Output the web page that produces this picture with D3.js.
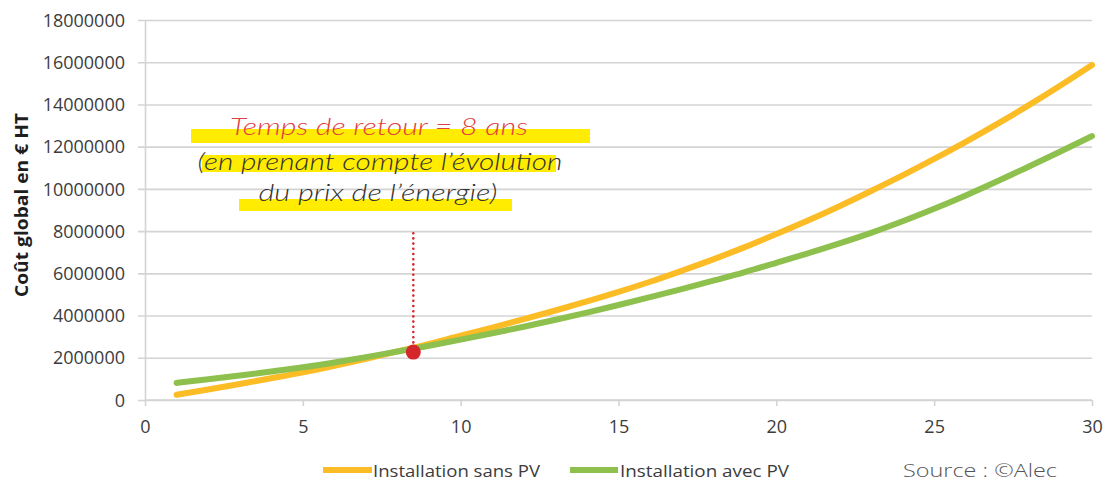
<!DOCTYPE html>
<html><head><meta charset="utf-8">
<script src="https://cdn.jsdelivr.net/npm/d3@7"></script>
<style>
html,body{margin:0;padding:0;background:#fff;}
svg{display:block;}
</style></head>
<body>
<svg id="chart" width="1107" height="482"></svg>
<script>
// ---- data ----
const years = [1,2,3,4,5,6,7,8,9,10,11,12,13,14,15,16,17,18,19,20,21,22,23,24,25,26,27,28,29,30];
const sansPV = [0.25,0.50,0.76,1.03,1.31,1.62,1.95,2.30,2.66,3.05,3.43,3.83,4.24,4.67,5.12,5.60,6.12,6.66,7.24,7.86,8.50,9.18,9.90,10.64,11.42,12.23,13.08,13.97,14.90,15.87].map(v=>v*1e6);
const avecPV = [0.81,0.98,1.16,1.35,1.55,1.78,2.03,2.30,2.57,2.86,3.16,3.47,3.80,4.14,4.50,4.87,5.25,5.65,6.06,6.50,6.95,7.42,7.92,8.47,9.06,9.69,10.36,11.06,11.77,12.50].map(v=>v*1e6);
const yTicks = [0,2000000,4000000,6000000,8000000,10000000,12000000,14000000,16000000,18000000];
const xTicks = [0,5,10,15,20,25,30];
const seriesNames = ["Installation sans PV","Installation avec PV"];
const payback = {x:8.5, y:2270000, top:7900000};
const noteLines = ["Temps de retour = 8 ans","(en prenant compte l\u2019\u00e9volution","du prix de l\u2019\u00e9nergie)"];
const yTitle = "Co\u00fbt global en \u20ac HT";
const source = "Source : \u00a9Alec";

// ---- drawing ----
const svg = d3.select("#chart");
const x = d3.scaleLinear().domain([0,30]).range([145,1092]);
const y = d3.scaleLinear().domain([0,18000000]).range([400,20]);
const colors = ["#fbbc26","#8dc04d"];
const gridCol = "#d4d4d4";
const font = "'Open Sans', sans-serif";

// gridlines via axis
const gy = svg.append("g").attr("transform","translate(1092,0)")
  .call(d3.axisLeft(y).tickValues(yTicks).tickSize(1092-138).tickFormat(""));
gy.select(".domain").remove();
gy.selectAll(".tick line").attr("stroke",gridCol).attr("stroke-width",1.6);

// y labels
const ya = svg.append("g").attr("transform","translate(145,0)")
  .call(d3.axisLeft(y).tickValues(yTicks).tickSize(0).tickPadding(20).tickFormat(d3.format("d")));
ya.select(".domain").attr("stroke",gridCol).attr("stroke-width",1.6);
ya.selectAll("text").attr("font-family",font).attr("font-size","18px").attr("fill","#3c3c3c").attr("dy","0.34em");

// x axis
const xa = svg.append("g").attr("transform","translate(0,400)")
  .call(d3.axisBottom(x).tickValues(xTicks).tickSize(6).tickPadding(14).tickFormat(d3.format("d")));
xa.select(".domain").attr("stroke",gridCol).attr("stroke-width",1.6).attr("d","M145,0H1092");
xa.selectAll(".tick line").attr("stroke",gridCol).attr("stroke-width",1.6);
xa.selectAll("text").attr("font-family",font).attr("font-size","18px").attr("fill","#3c3c3c");

// y title
svg.append("text").attr("transform","translate(28,205) rotate(-90)")
  .attr("text-anchor","middle").attr("font-family",font).attr("font-weight","bold")
  .attr("font-size","17px").attr("fill","#1e1e1e")
  .attr("textLength",184).attr("lengthAdjust","spacingAndGlyphs").text(yTitle);

// lines
const line = d3.line().x((d,i)=>x(years[i])).y(d=>y(d)).curve(d3.curveMonotoneX);
[sansPV, avecPV].forEach((s,k)=>{
  svg.append("path").datum(s).attr("d",line).attr("fill","none")
    .attr("stroke",colors[k]).attr("stroke-width",6).attr("stroke-linecap","round");
});
// payback marker
svg.append("line").attr("x1",x(payback.x)).attr("x2",x(payback.x))
  .attr("y1",y(payback.top)).attr("y2",y(payback.y))
  .attr("stroke","#d4262b").attr("stroke-width",2.6).attr("stroke-dasharray","0 5.2").attr("stroke-linecap","round");
svg.append("circle").attr("cx",x(payback.x)).attr("cy",y(payback.y)).attr("r",7.5).attr("fill","#d4262b");

// annotation highlights
const hl = [[191,129,399,14],[202,155,354,17],[239,199,273,12]];
hl.forEach(h=>svg.append("rect").attr("x",h[0]).attr("y",h[1]).attr("width",h[2]).attr("height",h[3]).attr("fill","#ffec00"));
const noteFont = "Lato, sans-serif";
const notePos = [[379,135,298,"#e0403f"],[380,170,365,"#333"],[378,201,239,"#333"]];
noteLines.forEach((t,i)=>{
  svg.append("text").attr("x",notePos[i][0]).attr("y",notePos[i][1]).attr("text-anchor","middle")
    .attr("font-family",noteFont).attr("font-weight","300").attr("font-style","italic").attr("font-size","23px")
    .attr("fill",notePos[i][3]).attr("textLength",notePos[i][2]).attr("lengthAdjust","spacingAndGlyphs").text(t);
});

// legend
const lg = [[323,372,373,167],[570,618,620,169]];
seriesNames.forEach((n,i)=>{
  svg.append("line").attr("x1",lg[i][0]).attr("x2",lg[i][1]).attr("y1",470).attr("y2",470)
    .attr("stroke",colors[i]).attr("stroke-width",6);
  svg.append("text").attr("x",lg[i][2]).attr("y",477).attr("font-family",font).attr("font-size","17px")
    .attr("fill","#3c3c3c").attr("textLength",lg[i][3]).attr("lengthAdjust","spacingAndGlyphs").text(n);
});
svg.append("text").attr("x",903).attr("y",477).attr("font-family",font).attr("font-weight","300")
  .attr("font-size","18px").attr("fill","#555").attr("textLength",154).attr("lengthAdjust","spacingAndGlyphs").text(source);
</script>
</body></html>
